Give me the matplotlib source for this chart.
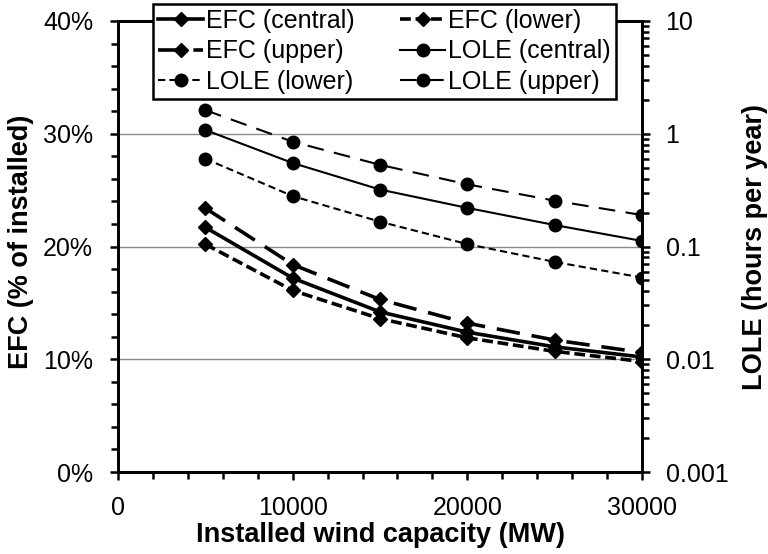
import numpy as np
import matplotlib
matplotlib.use("Agg")
import matplotlib.pyplot as plt
from matplotlib.ticker import MultipleLocator, FuncFormatter, LogLocator, NullFormatter

plt.rcParams['font.family'] = ['Liberation Sans', 'DejaVu Sans']

# data
capacity = [5000, 10000, 15000, 20000, 25000, 30000]
efc_central = [21.7, 17.2, 14.2, 12.4, 11.1, 10.2]
efc_lower = [20.2, 16.1, 13.6, 11.9, 10.7, 9.8]
efc_upper = [23.4, 18.4, 15.3, 13.2, 11.7, 10.6]
lole_central = [1.08, 0.55, 0.32, 0.22, 0.155, 0.112]
lole_lower = [0.60, 0.28, 0.166, 0.105, 0.073, 0.053]
lole_upper = [1.62, 0.85, 0.53, 0.356, 0.255, 0.19]

fs = 18      # ticks and legend
fs_lab = 19.5  # axis titles

fig = plt.figure(figsize=(7.68, 5.54), dpi=100)
fig.subplots_adjust(left=118/768, right=642/768, bottom=1-472/554, top=1-21/554)
ax = fig.add_subplot(111)
ax2 = ax.twinx()

# EFC on left axis
h_ec, = ax.plot(capacity, efc_central, color='black', lw=2.6, marker='D', ms=7.5,
                label='EFC (central)')
h_el, = ax.plot(capacity, efc_lower, color='black', lw=2.6, marker='D', ms=7.5,
                dashes=(3, 1.3), label='EFC (lower)')
h_eu, = ax.plot(capacity, efc_upper, color='black', lw=2.6, marker='D', ms=7.5,
                dashes=(6.5, 3.3), label='EFC (upper)')

# LOLE on right (log) axis
h_lc, = ax2.plot(capacity, lole_central, color='black', lw=1.5, marker='o', ms=9,
                 label='LOLE (central)')
h_ll, = ax2.plot(capacity, lole_lower, color='black', lw=1.5, marker='o', ms=9,
                 dashes=(3.5, 2), label='LOLE (lower)')
h_lu, = ax2.plot(capacity, lole_upper, color='black', lw=1.5, marker='o', ms=9,
                 dashes=(8, 5), label='LOLE (upper)')

ax.set_xlim(0, 30000)
ax.set_ylim(0, 40)
ax2.set_yscale('log')
ax2.set_ylim(0.001, 10)

ax.xaxis.set_major_locator(MultipleLocator(10000))
ax.xaxis.set_minor_locator(MultipleLocator(2000))
ax.yaxis.set_major_locator(MultipleLocator(10))
ax.yaxis.set_minor_locator(MultipleLocator(2))
ax.yaxis.set_major_formatter(FuncFormatter(lambda v, p: '%d%%' % v))
ax.xaxis.set_major_formatter(FuncFormatter(lambda v, p: '%d' % v))

ax2.yaxis.set_major_locator(LogLocator(base=10, numticks=10))
ax2.yaxis.set_minor_locator(LogLocator(base=10, subs=np.arange(2, 10), numticks=10))
ax2.yaxis.set_minor_formatter(NullFormatter())
ax2.yaxis.set_major_formatter(FuncFormatter(lambda v, p: '%g' % v))

ax.yaxis.grid(True, which='major', color='#8c8c8c', lw=1)
ax.set_axisbelow(True)

for a in (ax, ax2):
    for s in a.spines.values():
        s.set_linewidth(2)
    a.tick_params(which='both', direction='out', width=1.8, labelsize=fs)
    a.tick_params(which='major', length=6)
    a.tick_params(which='minor', length=5)
ax.tick_params(axis='y', which='both', right=False, pad=12)
ax.tick_params(axis='x', pad=11)
ax2.tick_params(axis='y', pad=11)

ax.set_xlabel('Installed wind capacity (MW)', fontsize=fs_lab, fontweight='bold')
ax.set_ylabel('EFC (% of installed)', fontsize=fs_lab, fontweight='bold')
ax2.set_ylabel('LOLE (hours per year)', fontsize=fs_lab, fontweight='bold')
ax.xaxis.set_label_coords(0.5, -0.111)
ax.yaxis.set_label_coords(-0.160, 0.51)
ax2.yaxis.set_label_coords(1.191, 0.5)

handles = [h_ec, h_eu, h_ll, h_el, h_lc, h_lu]
leg = fig.legend(handles=handles, loc='upper left',
                 bbox_to_anchor=(153/768, 1-4/554), bbox_transform=fig.transFigure,
                 ncol=2, fontsize=fs, frameon=True, fancybox=False, framealpha=1,
                 edgecolor='black', handlelength=1.8, handletextpad=0.1,
                 columnspacing=1.85, labelspacing=0.25, borderpad=0.2,
                 borderaxespad=0)
leg.get_frame().set_linewidth(1.8)

fig.savefig('out.png', dpi=100)
